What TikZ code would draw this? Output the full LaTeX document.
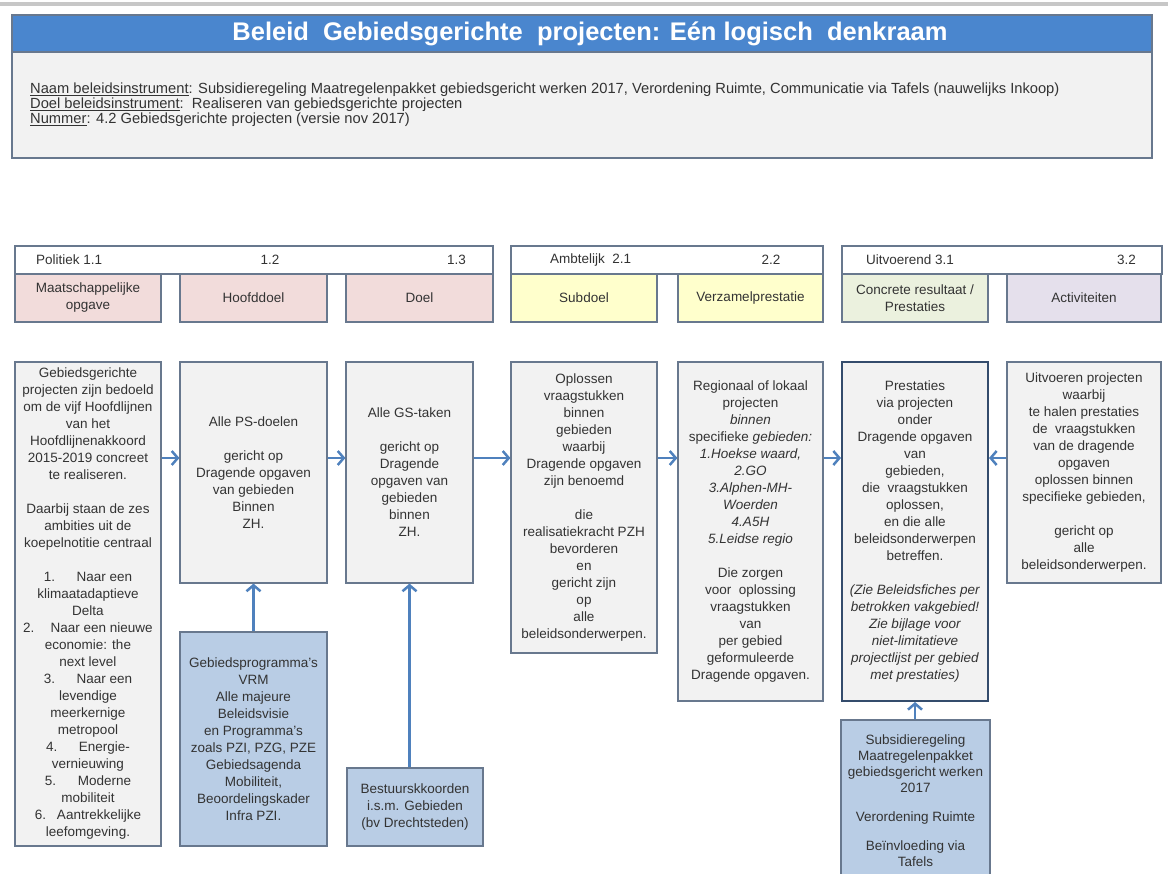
\documentclass[tikz,border=0pt]{standalone}
\usepackage{fontspec}
\setmainfont{Liberation Sans}
\usetikzlibrary{arrows.meta}

\definecolor{titleblue}{RGB}{74,134,206}
\definecolor{infogray}{RGB}{242,242,242}
\definecolor{edgegray}{RGB}{104,120,142}
\definecolor{darkedge}{RGB}{52,76,108}
\definecolor{steelfill}{RGB}{185,205,229}
\definecolor{pinkfill}{RGB}{242,220,219}
\definecolor{yellowfill}{RGB}{255,255,204}
\definecolor{greenfill}{RGB}{235,241,222}
\definecolor{lilacfill}{RGB}{229,224,236}
\definecolor{arrowblue}{RGB}{79,129,189}

\begin{document}
\begin{tikzpicture}[x=1pt,y=-1pt,
		every node/.style={font=\fontsize{13.5}{17}\selectfont,text=black!80,align=center,inner sep=0pt},
		box/.style={draw=edgegray,fill=infogray,line width=1.2pt},
		blok/.style={box,fill=steelfill},
		kop/.style={draw=edgegray,line width=1.2pt,minimum height=48pt,fill=#1},
		balk/.style={draw=edgegray,line width=1.2pt,fill=white,minimum height=28pt},
		pijl/.style={draw=arrowblue,line width=2.5pt,-{Straight Barb[length=6pt,width=14pt]}}]
	\useasboundingbox (0,0) rectangle (1168,874);
	\fill[black!22] (0,2) rectangle (1168,6);

	% Title block
	\node[box,minimum width=1140pt,minimum height=106pt] (info) at (582,105) {};
	\node[fill=titleblue,draw=edgegray,line width=1.2pt,minimum width=1140pt,minimum height=37pt,
		text=white,font=\fontsize{25.5}{28}\selectfont\bfseries] (titel) at (582,33.5)
		{\hspace{16pt}Beleid\ \ Gebiedsgerichte\ \ projecten: Eén logisch\ \ denkraam};
	\node[anchor=west,font=\fontsize{14.7}{16}\selectfont] (naam) at (30,90)
		{\underline{Naam beleidsinstrument}: Subsidieregeling Maatregelenpakket gebiedsgericht werken 2017, Verordening Ruimte, Communicatie via Tafels (nauwelijks Inkoop)};
	\node[anchor=west,font=\fontsize{14.7}{16}\selectfont] (doelinstr) at (30,105)
		{\underline{Doel beleidsinstrument}:\ \ Realiseren van gebiedsgerichte projecten};
	\node[anchor=west,font=\fontsize{14.7}{16}\selectfont] (nummer) at (30,120)
		{\underline{Nummer}: 4.2 Gebiedsgerichte projecten (versie nov 2017)};

	% Header bars
	\node[balk,minimum width=478pt] (bar1) at (254,260) {};
	\node[balk,minimum width=312pt] (bar2) at (667,260) {};
	\node[balk,minimum width=320pt] (bar3) at (1002,260) {};
	\node[anchor=west] (lab11) at (36,260) {Politiek 1.1};
	\node (lab12) at (270,260) {1.2};
	\node[anchor=east] (lab13) at (466,260) {1.3};
	\node[anchor=west] (lab21) at (550,260) {Ambtelijk\ \ 2.1};
	\node (lab22) at (771,260) {2.2};
	\node[anchor=west] (lab31) at (866,260) {Uitvoerend 3.1};
	\node[anchor=east] (lab32) at (1136,260) {3.2};

	% Header columns
	\foreach \n/\x/\w/\c/\t in {k11/88/146/pinkfill/{Maatschappelijke\\opgave},
			k12/253.5/147/pinkfill/Hoofddoel, k13/419.5/147/pinkfill/Doel,
			k21/584/146/yellowfill/Subdoel, k22/750.5/145/yellowfill/Verzamelprestatie,
			k31/915/146/greenfill/{Concrete resultaat /\\Prestaties},
			k32/1084/154/lilacfill/Activiteiten} {
		\node[kop=\c,minimum width=\w pt] (\n) at (\x,298) {\t};
	}

	% Chain of boxes
	\node[box,minimum width=146pt,minimum height=484pt] (opgave) at (88,604)
		{Gebiedsgerichte\\projecten zijn bedoeld\\om de vijf Hoofdlijnen\\van het\\Hoofdlijnenakkoord\\
		2015-2019 concreet\\te realiseren.\\[17pt]
		Daarbij staan de zes\\ambities uit de\\koepelnotitie centraal\\[17pt]
		1.\hspace{1.6em}Naar een\\klimaatadaptieve\\Delta\\
		2.\hspace{1.2em}Naar een nieuwe\\economie: the\\next level\\
		3.\hspace{1.6em}Naar een\\levendige\\meerkernige\\metropool\\
		4.\hspace{1.6em}Energie-\\vernieuwing\\
		5.\hspace{1.6em}Moderne\\mobiliteit\\
		6.\hspace{0.8em}Aantrekkelijke\\leefomgeving.};
	\node[box,minimum width=147pt,minimum height=221pt] (psdoel) at (253.5,472.5)
		{Alle PS-doelen\\[17pt]gericht op\\Dragende opgaven\\van gebieden\\Binnen\\ZH.};
	\node[box,minimum width=127pt,minimum height=221pt] (gstaak) at (409.5,472.5)
		{Alle GS-taken\\[17pt]gericht op\\Dragende\\opgaven van\\gebieden\\binnen\\ZH.};
	\node[box,minimum width=146pt,minimum height=291pt] (subdoel) at (584,507.5)
		{Oplossen\\vraagstukken\\binnen\\gebieden\\waarbij\\Dragende opgaven\\zijn benoemd\\[17pt]
		die\\realisatiekracht PZH\\bevorderen\\en\\gericht zijn\\op\\alle\\beleidsonderwerpen.};
	\node[box,minimum width=145pt,minimum height=339pt] (verzamel) at (750.5,531.5)
		{Regionaal of lokaal\\projecten\\\textit{binnen}\\specifieke \textit{gebieden:}\\
		\textit{1.Hoekse waard,}\\\textit{2.GO}\\\textit{3.Alphen-MH-}\\\textit{Woerden}\\
		\textit{4.A5H}\\\textit{5.Leidse regio}\\[17pt]
		Die zorgen\\voor\ \ oplossing\\vraagstukken\\van\\per gebied\\geformuleerde\\Dragende opgaven.};
	\node[box,draw=darkedge,line width=2pt,minimum width=146pt,minimum height=339pt] (prestatie) at (915,531.5)
		{Prestaties\\via projecten\\onder\\Dragende opgaven\\van\\gebieden,\\die\ \ vraagstukken\\
		oplossen,\\en die alle\\beleidsonderwerpen\\betreffen.\\[17pt]
		\textit{(Zie Beleidsfiches per}\\\textit{betrokken vakgebied!}\\\textit{Zie bijlage voor}\\
		\textit{niet-limitatieve}\\\textit{projectlijst per gebied}\\\textit{met prestaties)}};
	\node[box,minimum width=154pt,minimum height=221pt] (activiteit) at (1084,472.5)
		{Uitvoeren projecten\\waarbij\\te halen prestaties\\de\ \ vraagstukken\\van de dragende\\
		opgaven\\oplossen binnen\\specifieke gebieden,\\[17pt]gericht op\\alle\\beleidsonderwerpen.};

	% Instruments below
	\node[blok,minimum width=147pt,minimum height=214pt] (gebprog) at (253.5,739)
		{Gebiedsprogramma's\\VRM\\Alle majeure\\Beleidsvisie\\en Programma's\\zoals PZI, PZG, PZE\\
		Gebiedsagenda\\Mobiliteit,\\Beoordelingskader\\Infra PZI.};
	\node[blok,minimum width=136pt,minimum height=78pt] (bestuur) at (415,807)
		{Bestuurskkoorden\\i.s.m. Gebieden\\(bv Drechtsteden)};
	\node[blok,minimum width=149pt,minimum height=162pt,
		font=\fontsize{13.5}{16}\selectfont] (subsidie) at (915.5,801)
		{Subsidieregeling\\Maatregelenpakket\\gebiedsgericht werken\\2017\\[13pt]
		Verordening Ruimte\\[13pt]Beïnvloeding via\\Tafels};

	% Connectors
	\coordinate (rij) at (0,458);
	\draw[pijl] (opgave.east |- rij) -- (psdoel.west |- rij);
	\draw[pijl] (psdoel.east |- rij) -- (gstaak.west |- rij);
	\draw[pijl] (gstaak.east |- rij) -- (subdoel.west |- rij);
	\draw[pijl] (subdoel.east |- rij) -- (verzamel.west |- rij);
	\draw[pijl] (verzamel.east |- rij) -- (prestatie.west |- rij);
	\draw[pijl] (activiteit.west |- rij) -- (prestatie.east |- rij);
	\draw[pijl] (gebprog) -- (psdoel);
	\draw[pijl] (bestuur.north -| gstaak.south) -- (gstaak.south);
	\draw[pijl] (subsidie.north -| prestatie.south) -- (prestatie.south);
\end{tikzpicture}
\end{document}
